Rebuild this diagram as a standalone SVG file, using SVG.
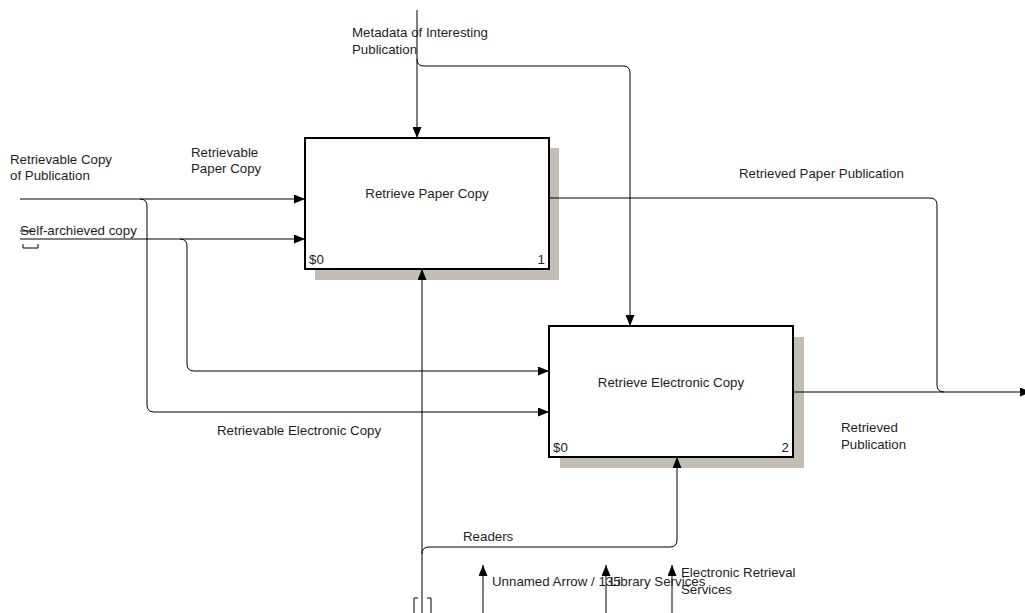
<svg xmlns="http://www.w3.org/2000/svg" width="1025" height="613" viewBox="0 0 1025 613">
<style>
text{font-family:"Liberation Sans",Arial,sans-serif;font-size:13.3px;fill:#1e1e1e}
.box{fill:#fff;stroke:#000;stroke-width:2}
.sh{fill:#c2beb6}
.c{fill:none;stroke:#000;stroke-width:1}
.a{marker-end:url(#ah)}
.mid{text-anchor:middle}
.end{text-anchor:end}
</style>
<defs>
<marker id="ah" markerWidth="11" markerHeight="9" refX="11" refY="4.5" orient="auto" markerUnits="userSpaceOnUse">
<path d="M0,0 L11,4.5 L0,9 z" fill="#000"/>
</marker>
</defs>
<g id="box1">
<rect class="sh" x="315" y="148" width="244" height="132"/>
<rect class="box" x="305" y="138" width="244" height="131"/>
<text class="mid" x="427" y="198">Retrieve Paper Copy</text>
<text x="309" y="264">$0</text>
<text class="end" x="545" y="264">1</text>
</g>
<g id="box2">
<rect class="sh" x="560" y="337" width="244" height="131"/>
<rect class="box" x="549" y="326" width="244" height="131"/>
<text class="mid" x="671" y="387">Retrieve Electronic Copy</text>
<text x="553" y="452">$0</text>
<text class="end" x="789" y="452">2</text>
</g>
<g id="connectors">
<path class="c a" d="M20,199 H305"/>
<path class="c a" d="M140,199 Q147,199 147,206 V405 Q147,412 154,412 H549"/>
<path class="c a" d="M20,239 H305"/>
<path class="c a" d="M180,239 Q187,239 187,246 V364 Q187,371 194,371 H549"/>
<path class="c a" d="M417,10 V138"/>
<path class="c a" d="M417,59 Q417,66 424,66 H623 Q630,66 630,73 V326"/>
<path class="c" d="M549,198 H930 Q937,198 937,205 V385 Q937,392 944,392"/>
<path class="c a" d="M793,392 H1031"/>
<path class="c a" d="M422,613 V269"/>
<path class="c a" d="M422,554 Q422,547 429,547 H670 Q677,547 677,540 V457"/>
<path class="c a" d="M483,613 V565"/>
<path class="c a" d="M606,613 V565"/>
<path class="c a" d="M672,613 V565"/>
<path class="c" d="M418,598 H414 V613 M427,598 H431 V613"/>
<path class="c" d="M23,244 V248 H38 V244"/>
<path class="c" d="M20,231 H33"/>
</g>
<g id="labels">
<text x="10" y="164">Retrievable Copy</text>
<text x="10" y="180">of Publication</text>
<text x="191" y="157">Retrievable</text>
<text x="191" y="173">Paper Copy</text>
<text x="20" y="235">Self-archieved copy</text>
<text x="352" y="37">Metadata of Interesting</text>
<text x="352" y="54">Publication</text>
<text x="739" y="178">Retrieved Paper Publication</text>
<text x="841" y="432">Retrieved</text>
<text x="841" y="449">Publication</text>
<text x="217" y="435">Retrievable Electronic Copy</text>
<text x="463" y="541">Readers</text>
<text x="492" y="586">Unnamed Arrow / 135</text>
<text x="610" y="586">Library Services</text>
<text x="681" y="577">Electronic Retrieval</text>
<text x="681" y="594">Services</text>
</g>
</svg>
